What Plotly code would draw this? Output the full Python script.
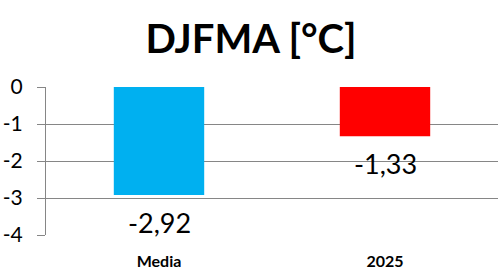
import plotly.graph_objects as go

categories = ["Media", "2025"]
values = [-2.92, -1.33]
bar_colors = ["#00B0F0", "#FF0000"]
y_ticks = [0, -1, -2, -3, -4]
y_tick_labels = ["0", "-1", "-2", "-3", "-4"]
title_text = "DJFMA [°C]"

labels = [f"{v:.2f}".replace(".", ",") for v in values]

FONT = "Lato"
GRID = "#868686"

fig = go.Figure()
fig.add_trace(go.Bar(
    x=categories, y=values,
    marker=dict(color=bar_colors, line=dict(width=0)),
    hoverinfo="skip",
))

for i, (v, t) in enumerate(zip(values, labels)):
    fig.add_annotation(
        x=i, y=v, text=t, showarrow=False,
        yanchor="top", yshift=-9,
        font=dict(family=FONT, size=27, color="#000000"),
    )

fig.update_layout(
    width=502, height=280,
    margin=dict(l=46, r=4, t=87, b=45),
    paper_bgcolor="white", plot_bgcolor="white",
    bargap=0.6,
    showlegend=False,
    title=dict(
        text=title_text, x=0.5, xanchor="center", y=0.86, yanchor="middle",
        font=dict(family=FONT, size=40, color="#000000", weight="bold"),
    ),
)
fig.update_yaxes(
    range=[-4, 0], tickvals=y_ticks, ticktext=y_tick_labels,
    showgrid=True, gridcolor=GRID, gridwidth=1,
    showline=True, linecolor=GRID, linewidth=1,
    ticks="outside", ticklen=8, tickcolor=GRID,
    ticklabelstandoff=10,
    zeroline=False,
    tickfont=dict(family=FONT, size=21, color="#000000"),
)
fig.update_xaxes(
    type="category", range=[-0.5, 1.5],
    showline=False, showgrid=False, ticks="",
    ticklabelstandoff=15,
    tickfont=dict(family=FONT, size=16, color="#000000", weight="bold"),
)

fig.write_html("out.html")
